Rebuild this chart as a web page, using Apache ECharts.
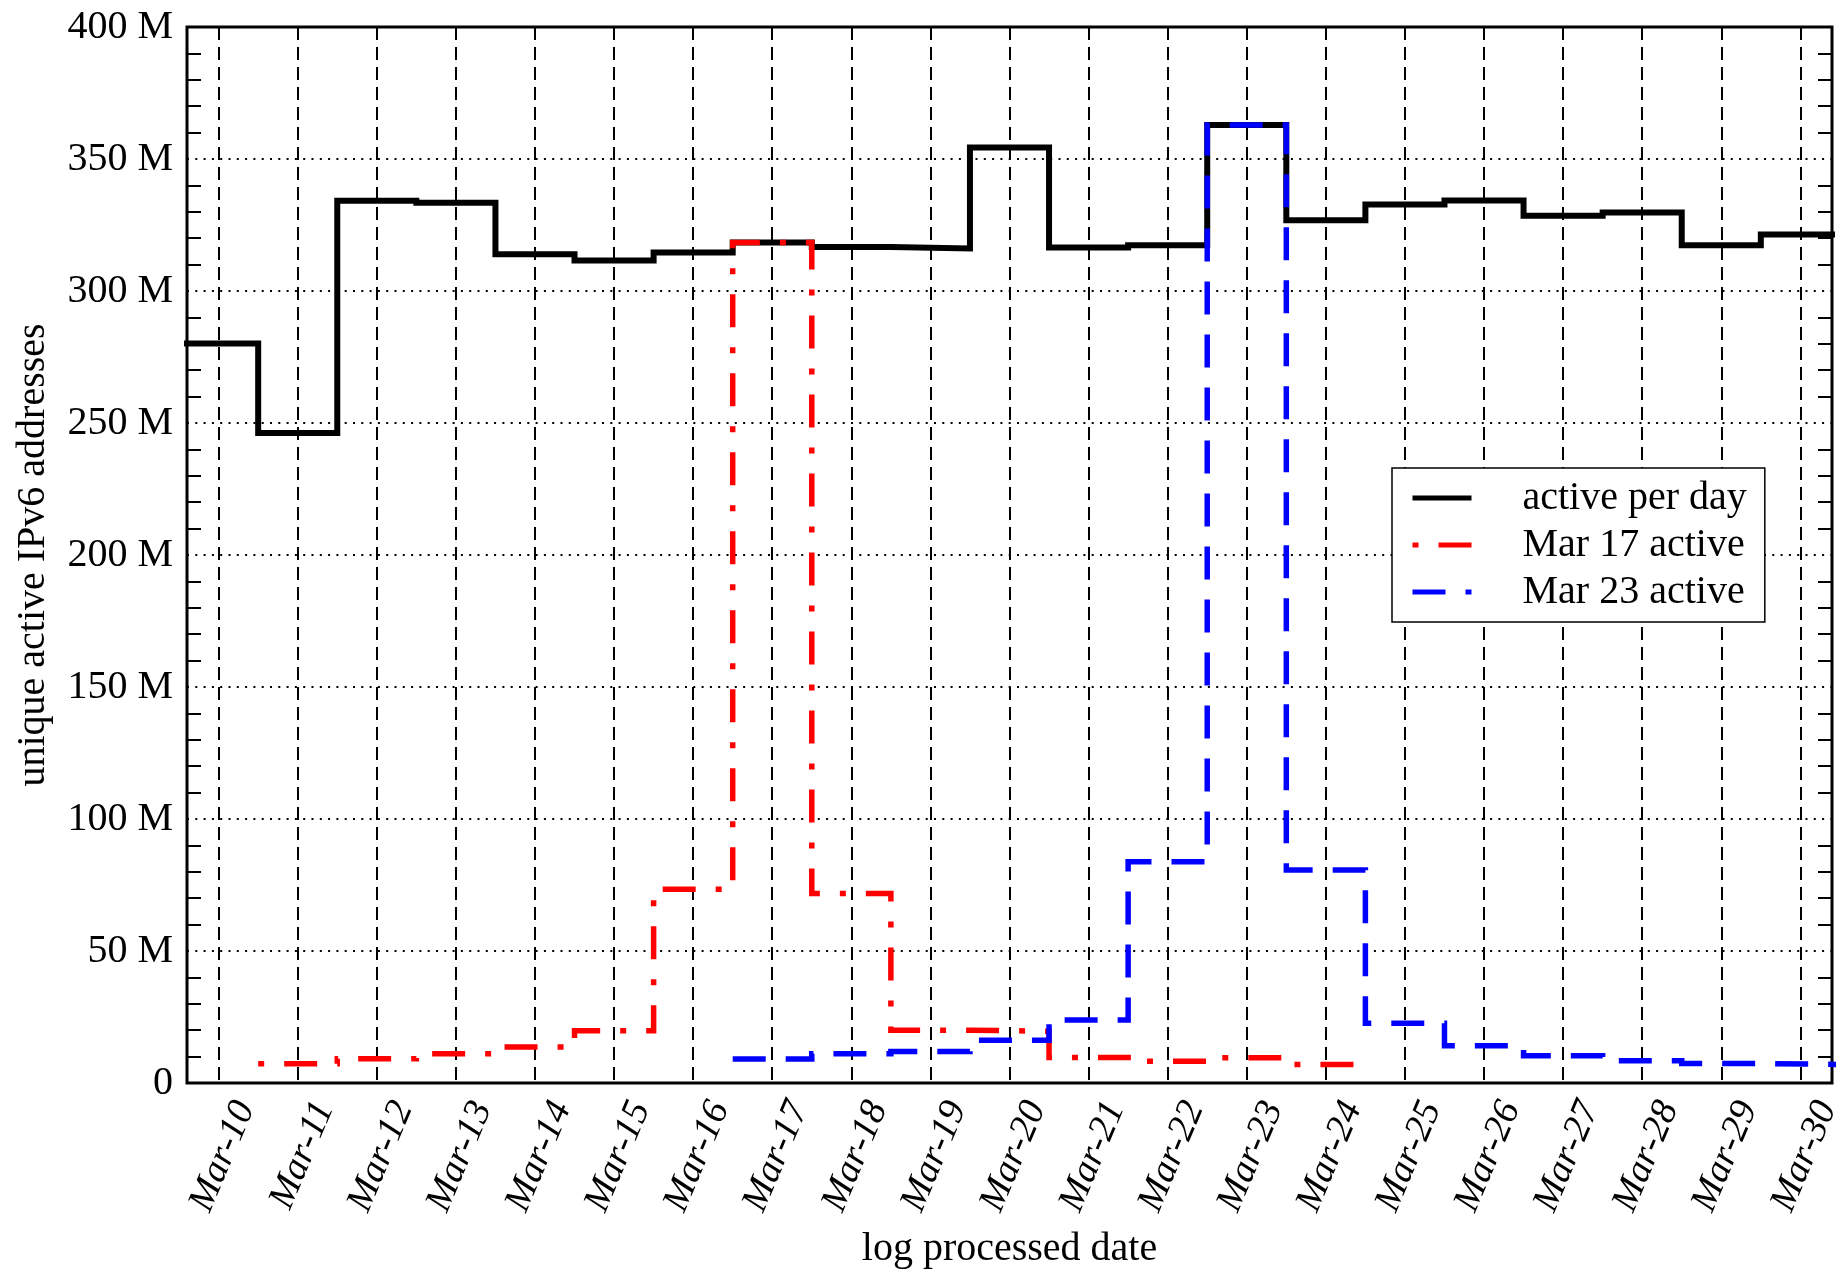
<!DOCTYPE html>
<html>
<head>
<meta charset="utf-8">
<script src="https://cdn.jsdelivr.net/npm/echarts@6/dist/echarts.min.js"></script>
<style>
html,body{margin:0;padding:0;background:#fff;}
#chart{width:1837px;height:1275px;}
</style>
</head>
<body>
<div id="chart"></div>
<script>
// ---- data (values in millions of addresses) ----
const dayNumbers = [10,11,12,13,14,15,16,17,18,19,20,21,22,23,24,25,26,27,28,29,30];
const dayLabels = ['Mar-10','Mar-11','Mar-12','Mar-13','Mar-14','Mar-15','Mar-16','Mar-17','Mar-18','Mar-19','Mar-20',
                   'Mar-21','Mar-22','Mar-23','Mar-24','Mar-25','Mar-26','Mar-27','Mar-28','Mar-29','Mar-30'];
const activePerDay = [280.1,246.2,334.2,333.4,313.9,311.6,314.6,318.4,316.7,316.1,354.4,
                      316.5,317.3,362.9,326.8,332.8,334.3,328.5,329.7,317.3,321.4];
const mar17Days = [11,12,13,14,15,16,17,18,19,20,21,22,23,24];
const mar17Active = [7.3,9.2,11.1,13.6,19.8,73.4,318.4,71.8,20.0,19.6,9.7,8.2,9.6,7.0];
const mar23Days = [17,18,19,20,21,22,23,24,25,26,27,28,29,30];
const mar23Active = [9.1,11.1,11.9,16.2,23.9,83.8,362.9,80.7,22.6,14.1,10.3,8.4,7.4,7.0];
const yTickValues = [0,50,100,150,200,250,300,350,400];
const yTickLabels = ['0','50 M','100 M','150 M','200 M','250 M','300 M','350 M','400 M'];
const seriesNames = ['active per day','Mar 17 active','Mar 23 active'];

// histogram-style steps: each day's value spans day-0.5 .. day+0.5
function stepData(days, vals) {
  const out = [];
  days.forEach((d, i) => { out.push([d - 0.5, vals[i]]); out.push([d + 0.5, vals[i]]); });
  return out;
}

const FONT = '"Liberation Serif","Times New Roman",serif';
const chart = echarts.init(document.getElementById('chart'), null, {renderer: 'canvas'});

const minorTickCommon = {show: true, splitNumber: 5, length: 14, lineStyle: {color: '#000', width: 2}};

chart.setOption({
  animation: false,
  backgroundColor: '#fff',
  grid: {
    left: 187, top: 27, width: 1645, height: 1056,
    show: true, borderColor: '#000', borderWidth: 3, backgroundColor: 'transparent',
    containLabel: false, outerBoundsMode: 'none'
  },
  legend: {
    orient: 'vertical', left: 1392, top: 468,
    data: seriesNames,
    itemWidth: 59, itemHeight: 20, itemGap: 4,
    padding: [8.5, 18, 8.5, 18],
    backgroundColor: '#fff', borderColor: '#000', borderWidth: 1.5, borderRadius: 0,
    itemStyle: {color: 'transparent', borderWidth: 0, opacity: 0},
    lineStyle: {width: 5},
    textStyle: {fontFamily: FONT, fontSize: 40, color: '#000', lineHeight: 43, padding: [0, 0, 0, 46]},
    selectedMode: false
  },
  xAxis: {
    type: 'value', min: 9.6, max: 30.4,
    name: 'log processed date', nameLocation: 'middle', nameGap: 146,
    nameTextStyle: {fontFamily: FONT, fontSize: 40, color: '#000'},
    axisLine: {show: false},
    axisTick: {show: false, customValues: dayNumbers},
    axisLabel: {
      customValues: dayNumbers,
      formatter: v => { const i = dayNumbers.indexOf(Math.round(v)); return i >= 0 ? dayLabels[i] : ''; },
      rotate: 67, margin: 9, verticalAlign: 'top', padding: [10, 0, 0, 0],
      fontFamily: FONT, fontSize: 38, fontStyle: 'italic', color: '#000'
    },
    splitLine: {show: true, lineStyle: {color: '#000', width: 2, type: [13, 7]}}
  },
  yAxis: [{
    type: 'value', min: 0, max: 400, interval: 50, position: 'left',
    name: 'unique active IPv6 addresses', nameLocation: 'middle', nameGap: 134,
    nameTextStyle: {fontFamily: FONT, fontSize: 40, color: '#000'},
    axisLine: {show: false},
    axisTick: {show: false, inside: true},
    minorTick: minorTickCommon,
    axisLabel: {
      formatter: v => { const i = yTickValues.indexOf(v); return i >= 0 ? yTickLabels[i] : ''; },
      margin: 14, fontFamily: FONT, fontSize: 40, color: '#000'
    },
    splitLine: {show: true, lineStyle: {color: '#000', width: 2, type: [2, 6.3]}}
  }, {
    type: 'value', min: 0, max: 400, interval: 50, position: 'right',
    axisLine: {show: false},
    axisTick: {show: false, inside: true},
    minorTick: minorTickCommon,
    axisLabel: {show: false},
    splitLine: {show: false}
  }],
  series: [{
    name: seriesNames[0], type: 'line', data: stepData(dayNumbers, activePerDay),
    symbol: 'none', z: 3,
    lineStyle: {color: '#000', width: 6, cap: 'butt', join: 'miter'},
    itemStyle: {color: '#000'}
  }, {
    name: seriesNames[1], type: 'line', data: stepData(mar17Days, mar17Active),
    symbol: 'none', z: 4,
    lineStyle: {color: '#ff0000', width: 5.5, type: [6, 20, 33, 20], cap: 'butt', join: 'miter'},
    itemStyle: {color: '#ff0000'}
  }, {
    name: seriesNames[2], type: 'line', data: stepData(mar23Days, mar23Active),
    symbol: 'none', z: 5,
    lineStyle: {color: '#0000ff', width: 5.5, type: [33, 20], cap: 'butt', join: 'miter'},
    itemStyle: {color: '#0000ff'}
  }]
});
</script>
</body>
</html>
